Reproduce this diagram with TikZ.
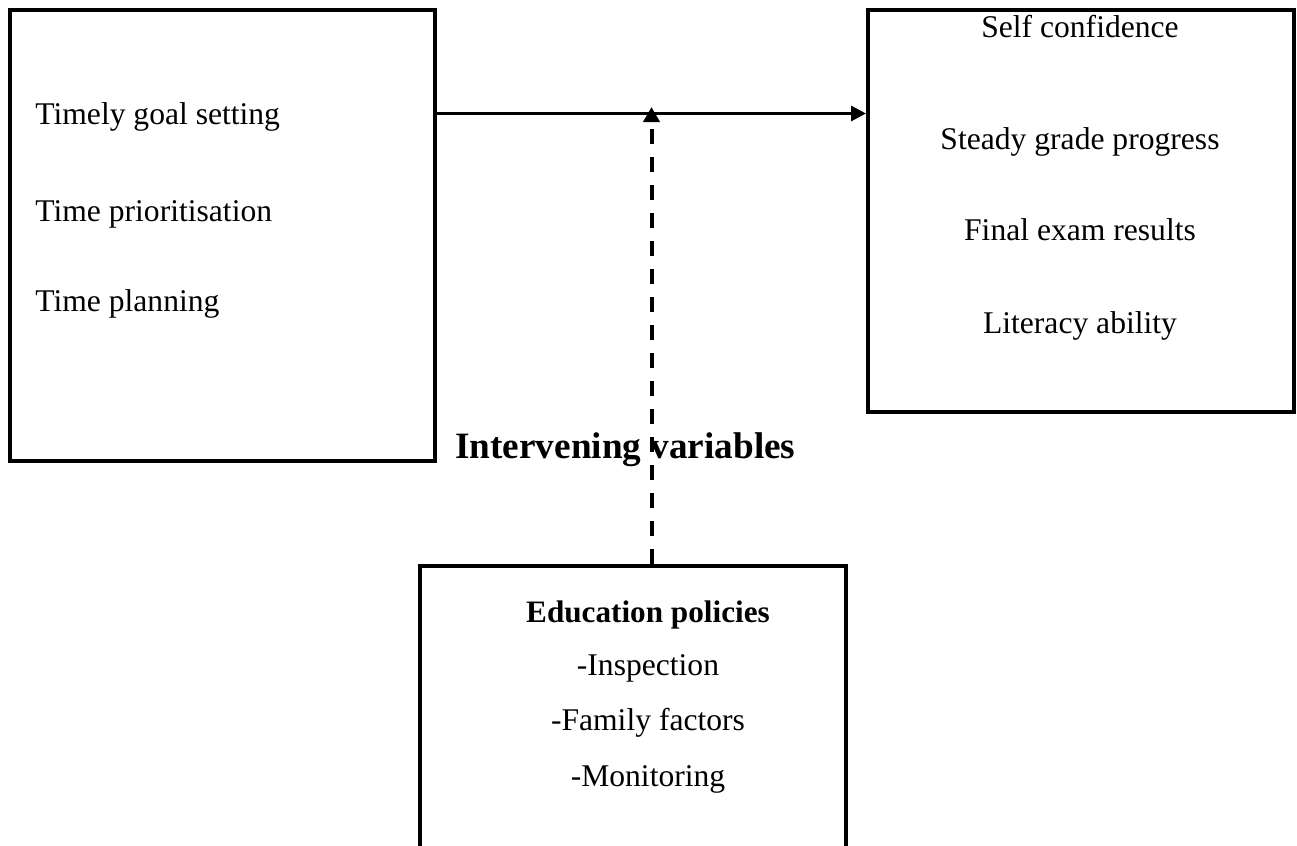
\documentclass[tikz,border=0pt]{standalone}
\usepackage{fontspec}
\setmainfont{Liberation Serif}
\usetikzlibrary{arrows.meta}
\tikzset{
  boxframe/.style={draw=black, line width=2pt, fill=none, inner sep=0pt},
  txt/.style={inner sep=0pt, font=\fontsize{15.8pt}{18pt}\selectfont},
  bold txt/.style={inner sep=0pt, font=\fontsize{15.6pt}{18pt}\selectfont\bfseries},
  big bold/.style={inner sep=0pt, font=\fontsize{18.6pt}{22pt}\selectfont\bfseries},
  mainarrow/.style={line width=1.5pt, -{Triangle[length=7.5pt,width=7.5pt]}},
  dasharrow/.style={line width=2pt, dash pattern=on 7.5pt off 6.5pt, -{Triangle[length=7.5pt,width=8pt]}}
}
\begin{document}
\begin{tikzpicture}[x=0.5pt,y=-0.5pt]
\useasboundingbox (0,0) rectangle (1297,846);
\clip (0,0) rectangle (1297,846);
\fill[white] (0,0) rectangle (1297,846);
% boxes
\node[boxframe, minimum width=212.25pt, minimum height=225.25pt] (left) at (222.25,235.25) {};
\node[boxframe, minimum width=212.75pt, minimum height=200.75pt] (right) at (1080.75,210.75) {};
\node[boxframe, minimum width=213pt, minimum height=167pt] (bottom) at (633,733) {};
% left texts
\node[txt, anchor=base west] (l1) at (35,124) {Timely goal setting};
\node[txt, anchor=base west] (l2) at (35,221) {Time prioritisation};
\node[txt, anchor=base west] (l3) at (35,311) {Time planning};
% right texts
\node[txt, anchor=base] (r1) at (1080,37) {Self confidence};
\node[txt, anchor=base] (r2) at (1080,149) {Steady grade progress};
\node[txt, anchor=base] (r3) at (1080,240) {Final exam results};
\node[txt, anchor=base] (r4) at (1080,333) {Literacy ability};
% bottom texts
\node[bold txt, anchor=base] (b1) at (648,622) {Education policies};
\node[txt, anchor=base] (b2) at (648,675) {-Inspection};
\node[txt, anchor=base] (b3) at (648,730) {-Family factors};
\node[txt, anchor=base] (b4) at (648,786) {-Monitoring};
% intervening label
\node[big bold, anchor=base west] (iv) at (455,458) {Intervening variables};
% connectors
\coordinate (row) at (0,113.5);
\draw[mainarrow] (left.east |- row) -- (right.west |- row);
\coordinate (dtip) at (651.5,107);
\draw[dasharrow] (bottom.north -| dtip) -- (dtip);
\end{tikzpicture}
\end{document}
